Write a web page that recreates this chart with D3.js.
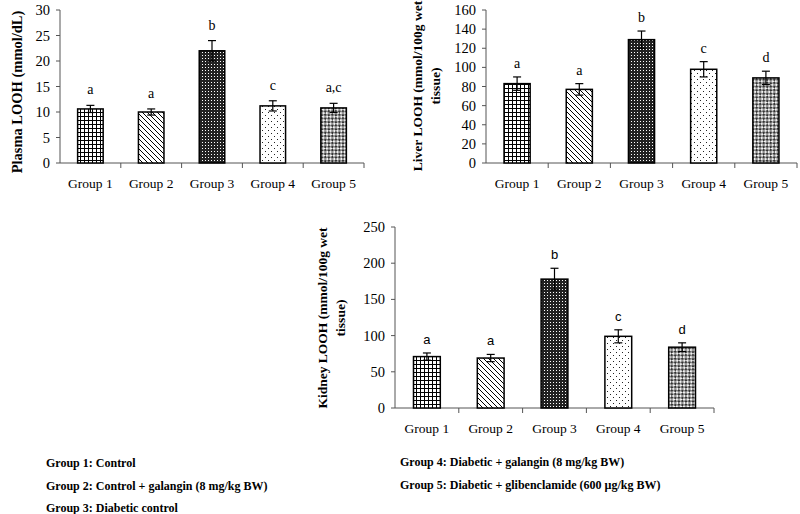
<!DOCTYPE html>
<html>
<head>
<meta charset="utf-8">
<script src="https://cdn.jsdelivr.net/npm/d3@7"></script>
<style>
  body { margin: 0; background: #fff; }
  svg { display: block; }
</style>
</head>
<body>
<svg id="chart" width="800" height="514"></svg>
<script>
const groups = ['Group 1', 'Group 2', 'Group 3', 'Group 4', 'Group 5'];

const plasmaValues = [10.6, 10.0, 22.0, 11.2, 10.8];
const plasmaErrors = [0.7, 0.6, 2.0, 1.0, 0.9];
const plasmaLetters = ['a', 'a', 'b', 'c', 'a,c'];
const plasmaTicks = [0, 5, 10, 15, 20, 25, 30];

const liverValues = [83, 77, 129, 98, 89];
const liverErrors = [7, 6, 9, 8, 7];
const liverLetters = ['a', 'a', 'b', 'c', 'd'];
const liverTicks = [0, 20, 40, 60, 80, 100, 120, 140, 160];

const kidneyValues = [71, 69, 178, 99, 84];
const kidneyErrors = [5, 5, 15, 9, 6];
const kidneyLetters = ['a', 'a', 'b', 'c', 'd'];
const kidneyTicks = [0, 50, 100, 150, 200, 250];

const legendLeft = ['Group 1: Control', 'Group 2: Control + galangin (8 mg/kg BW)', 'Group 3: Diabetic control'];
const legendRight = ['Group 4: Diabetic + galangin (8 mg/kg BW)', 'Group 5: Diabetic + glibenclamide  (600 \u00b5g/kg BW)'];

const svg = d3.select('#chart');
const serif = '"Liberation Serif", "Times New Roman", serif';
const sans = '"Liberation Sans", Arial, sans-serif';

// patrones de relleno de las barras
const defs = svg.append('defs');

const p1 = defs.append('pattern').attr('id', 'pat0').attr('patternUnits', 'userSpaceOnUse')
  .attr('width', 4).attr('height', 4);
p1.append('rect').attr('width', 4).attr('height', 4).attr('fill', '#fff');
p1.append('rect').attr('x', 0).attr('y', 0).attr('width', 1).attr('height', 4).attr('fill', '#000');
p1.append('rect').attr('x', 0).attr('y', 0).attr('width', 4).attr('height', 1).attr('fill', '#000');

const p2 = defs.append('pattern').attr('id', 'pat1').attr('patternUnits', 'userSpaceOnUse')
  .attr('width', 5).attr('height', 5);
p2.append('rect').attr('width', 5).attr('height', 5).attr('fill', '#fff');
p2.append('path').attr('d', 'M0,0L5,5M-1,4L1,6M4,-1L6,1')
  .attr('stroke', '#000').attr('stroke-width', 1);

const p3 = defs.append('pattern').attr('id', 'pat2').attr('patternUnits', 'userSpaceOnUse')
  .attr('width', 3).attr('height', 3);
p3.append('rect').attr('width', 3).attr('height', 3).attr('fill', '#222');
p3.append('rect').attr('x', 1).attr('y', 1).attr('width', 1).attr('height', 1).attr('fill', '#fff');

const p4 = defs.append('pattern').attr('id', 'pat3').attr('patternUnits', 'userSpaceOnUse')
  .attr('width', 6).attr('height', 6);
p4.append('rect').attr('width', 6).attr('height', 6).attr('fill', '#fff');
p4.append('rect').attr('x', 1).attr('y', 1).attr('width', 1).attr('height', 1).attr('fill', '#222');
p4.append('rect').attr('x', 4).attr('y', 4).attr('width', 1).attr('height', 1).attr('fill', '#222');

const p5 = defs.append('pattern').attr('id', 'pat4').attr('patternUnits', 'userSpaceOnUse')
  .attr('width', 5).attr('height', 5).attr('patternTransform', 'rotate(45)');
p5.append('rect').attr('width', 5).attr('height', 5).attr('fill', '#f2f2f2');
p5.append('rect').attr('x', 0).attr('y', 0).attr('width', 2.5).attr('height', 2.5).attr('fill', '#333');
p5.append('rect').attr('x', 2.5).attr('y', 2.5).attr('width', 2.5).attr('height', 2.5).attr('fill', '#333');

function drawChart(opt) {
  const x = d3.scaleBand().domain(groups).range([opt.left, opt.right]);
  const y = d3.scaleLinear().domain([0, d3.max(opt.ticks)]).range([opt.bottom, opt.top]);
  const g = svg.append('g');
  const barW = x.bandwidth() * 0.42;

  // eje y
  g.append('line')
    .attr('x1', opt.left).attr('x2', opt.left)
    .attr('y1', y(0)).attr('y2', y(d3.max(opt.ticks)))
    .attr('stroke', '#555');
  opt.ticks.forEach((t) => {
    g.append('line')
      .attr('x1', opt.left - 4).attr('x2', opt.left)
      .attr('y1', y(t)).attr('y2', y(t))
      .attr('stroke', '#555');
    g.append('text')
      .attr('x', opt.left - 10).attr('y', y(t))
      .attr('dy', '0.35em')
      .attr('text-anchor', 'end')
      .style('font-family', serif).style('font-size', '14.5px')
      .text(t);
  });

  // eje x
  g.append('line')
    .attr('x1', opt.left).attr('x2', opt.right)
    .attr('y1', y(0)).attr('y2', y(0))
    .attr('stroke', '#555');
  groups.forEach((grp, i) => {
    g.append('line')
      .attr('x1', x(grp) + x.bandwidth()).attr('x2', x(grp) + x.bandwidth())
      .attr('y1', y(0)).attr('y2', y(0) + 5)
      .attr('stroke', '#555');
    g.append('text')
      .attr('x', x(grp) + x.bandwidth() / 2).attr('y', y(0) + 20)
      .attr('dy', '0.35em')
      .attr('text-anchor', 'middle')
      .style('font-family', serif).style('font-size', '13.5px')
      .text(grp);
  });

  // barras
  groups.forEach((grp, i) => {
    const cx = x(grp) + x.bandwidth() / 2;
    const v = opt.values[i];
    const e = opt.errors[i];
    g.append('rect')
      .attr('x', cx - barW / 2).attr('y', y(v))
      .attr('width', barW).attr('height', y(0) - y(v))
      .attr('fill', 'url(#pat' + i + ')')
      .attr('stroke', '#000').attr('stroke-width', 1.5);

    // barra de error
    g.append('line')
      .attr('x1', cx).attr('x2', cx)
      .attr('y1', y(v - e)).attr('y2', y(v + e))
      .attr('stroke', '#000').attr('stroke-width', 1.2);
    [v - e, v + e].forEach((val) => {
      g.append('line')
        .attr('x1', cx - 4).attr('x2', cx + 4)
        .attr('y1', y(val)).attr('y2', y(val))
        .attr('stroke', '#000').attr('stroke-width', 1.2);
    });

    g.append('text')
      .attr('x', cx).attr('y', y(v + e) - opt.letterGap)
      .attr('text-anchor', 'middle')
      .style('font-family', opt.letterFont).style('font-size', opt.letterSize)
      .text(opt.letters[i]);
  });

  // título del eje y
  const title = g.append('text')
    .attr('transform', 'translate(' + opt.titleX + ',' + opt.titleY + ') rotate(-90)')
    .attr('text-anchor', 'middle')
    .style('font-family', serif).style('font-size', opt.titleSize).style('font-weight', 'bold');
  opt.title.forEach((line, k) => {
    title.append('tspan')
      .attr('x', 0).attr('dy', k === 0 ? 0 : 18)
      .text(line);
  });
}

drawChart({
  left: 60, right: 364, top: 10, bottom: 163,
  ticks: plasmaTicks, values: plasmaValues, errors: plasmaErrors, letters: plasmaLetters,
  letterGap: 11, letterFont: serif, letterSize: '14px',
  title: ['Plasma LOOH (mmol/dL)'], titleX: 22, titleY: 92, titleSize: '14.5px'
});

drawChart({
  left: 486, right: 797, top: 10, bottom: 163,
  ticks: liverTicks, values: liverValues, errors: liverErrors, letters: liverLetters,
  letterGap: 9, letterFont: serif, letterSize: '14px',
  title: ['Liver LOOH (mmol/100g wet', 'tissue)'], titleX: 422, titleY: 86, titleSize: '13.5px'
});

drawChart({
  left: 395, right: 714, top: 227, bottom: 408,
  ticks: kidneyTicks, values: kidneyValues, errors: kidneyErrors, letters: kidneyLetters,
  letterGap: 9, letterFont: sans, letterSize: '13px',
  title: ['Kidney LOOH (mmol/100g wet', 'tissue)'], titleX: 327, titleY: 318, titleSize: '13.5px'
});

// leyenda
const legend = svg.append('g')
  .style('font-family', serif).style('font-size', '12px').style('font-weight', 'bold')
  .style('white-space', 'pre');
legendLeft.forEach((t, i) => {
  legend.append('text').attr('x', 46).attr('y', 467 + i * 22.5).text(t);
});
legendRight.forEach((t, i) => {
  legend.append('text').attr('x', 400).attr('y', 466 + i * 23).text(t);
});
</script>
</body>
</html>
